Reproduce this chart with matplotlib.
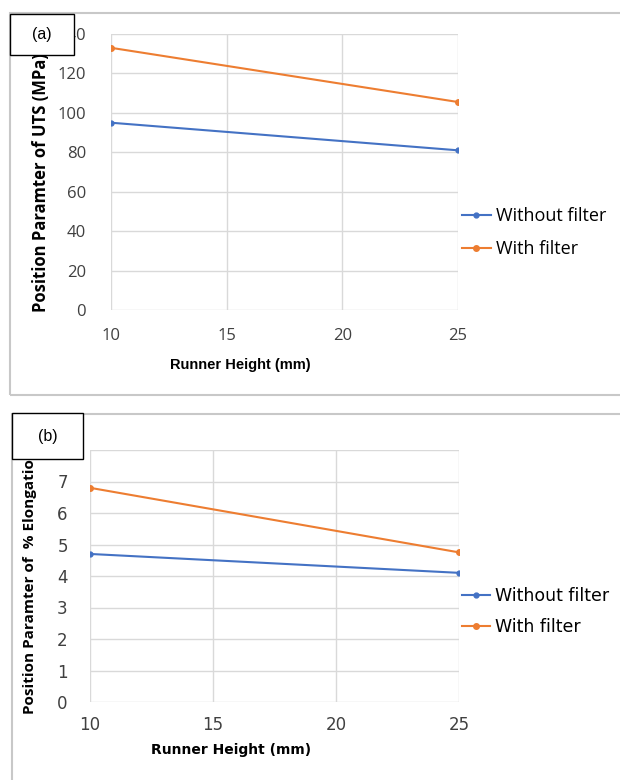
import matplotlib
matplotlib.use("Agg")
import matplotlib.pyplot as plt
from matplotlib.patches import Rectangle

runner_height = [10, 25]
uts_without = [95, 81]
uts_with = [133, 105.5]
elong_without = [4.7, 4.1]
elong_with = [6.8, 4.75]
series_names = ["Without filter", "With filter"]
colors = ["#4472C4", "#ED7D31"]
x_ticks = [10, 15, 20, 25]

W, H = 620, 780
fig = plt.figure(figsize=(W / 100, H / 100), dpi=100)
fig.patch.set_facecolor("white")


def px_axes(x0, y0, x1, y1):
    return fig.add_axes([x0 / W, 1 - y1 / H, (x1 - x0) / W, (y1 - y0) / H])


def panel_border(x0, y0, x1, y1):
    fig.patches.append(Rectangle((x0 / W, 1 - y1 / H), (x1 - x0) / W, (y1 - y0) / H,
                                 transform=fig.transFigure, fill=False,
                                 edgecolor="#c8c8c8", linewidth=1.5, zorder=0))


def label_box(x0, y0, x1, y1, text):
    fig.patches.append(Rectangle((x0 / W, 1 - y1 / H), (x1 - x0) / W, (y1 - y0) / H,
                                 transform=fig.transFigure, facecolor="white",
                                 edgecolor="black", linewidth=1.0, zorder=10))
    fig.text((x0 + x1) / 2 / W, 1 - (y0 + y1) / 2 / H, text, ha="center", va="center",
             fontsize=11.5, family="Liberation Sans", zorder=11)


def style_axes(ax, ymax, ystep, font, size):
    ax.set_xlim(10, 25)
    ax.set_ylim(0, ymax)
    ax.set_xticks(x_ticks)
    ax.set_yticks(range(0, ymax + 1, ystep))
    ax.grid(True, color="#d9d9d9", linewidth=1.0)
    ax.set_axisbelow(True)
    for s in ax.spines.values():
        s.set_visible(False)
    ax.tick_params(length=0, labelsize=size, labelcolor="#404040")
    for lab in ax.get_xticklabels() + ax.get_yticklabels():
        lab.set_family(font)


# Panel (a)
panel_border(10, 13, 640, 395)
ax1 = px_axes(111, 34, 458, 310)
ax1.plot(runner_height, uts_without, color=colors[0], marker="o", markersize=3.5,
         linewidth=1.5, label=series_names[0])
ax1.plot(runner_height, uts_with, color=colors[1], marker="o", markersize=4,
         linewidth=1.5, label=series_names[1])
style_axes(ax1, 140, 20, "Open Sans", 12)
ax1.tick_params(axis="y", pad=18)
ax1.tick_params(axis="x", pad=13)
ax1.set_xlabel("Runner Height (mm)", fontsize=10.5, fontweight="bold",
               family="Liberation Sans")
ax1.xaxis.set_label_coords(0.372, -0.174)
ax1.set_ylabel("Position Paramter of UTS (MPa)", fontsize=12, fontweight="bold",
               family="Open Sans")
ax1.yaxis.set_label_coords(-0.177, 0.46)
ax1.legend(loc="center left", bbox_to_anchor=(0.99, 0.28), frameon=False,
           handlelength=1.6, handletextpad=0.3, labelspacing=0.8,
           borderaxespad=0.0, prop={"family": "Open Sans", "size": 13})
label_box(10, 14, 74, 55, "(a)")

# Panel (b)
panel_border(12, 414, 640, 800)
ax2 = px_axes(90, 450, 459, 702)
ax2.plot(runner_height, elong_without, color=colors[0], marker="o", markersize=3.5,
         linewidth=1.5, label=series_names[0])
ax2.plot(runner_height, elong_with, color=colors[1], marker="o", markersize=4,
         linewidth=1.5, label=series_names[1])
style_axes(ax2, 8, 1, "DejaVu Sans", 12)
ax2.tick_params(axis="y", pad=16)
ax2.tick_params(axis="x", pad=10)
ax2.set_xlabel("Runner Height (mm)", fontsize=10, fontweight="bold",
               family="DejaVu Sans")
ax2.xaxis.set_label_coords(0.382, -0.163)
ax2.set_ylabel("Position Paramter of  % Elongation", fontsize=11, fontweight="bold",
               family="Open Sans")
ax2.yaxis.set_label_coords(-0.144, 0.48)
ax2.legend(loc="center left", bbox_to_anchor=(0.99, 0.36), frameon=False,
           handlelength=1.6, handletextpad=0.3, labelspacing=0.75,
           borderaxespad=0.0, prop={"family": "DejaVu Sans", "size": 12.5})
label_box(12, 413, 83, 459, "(b)")

fig.savefig("out.png", dpi=100)
